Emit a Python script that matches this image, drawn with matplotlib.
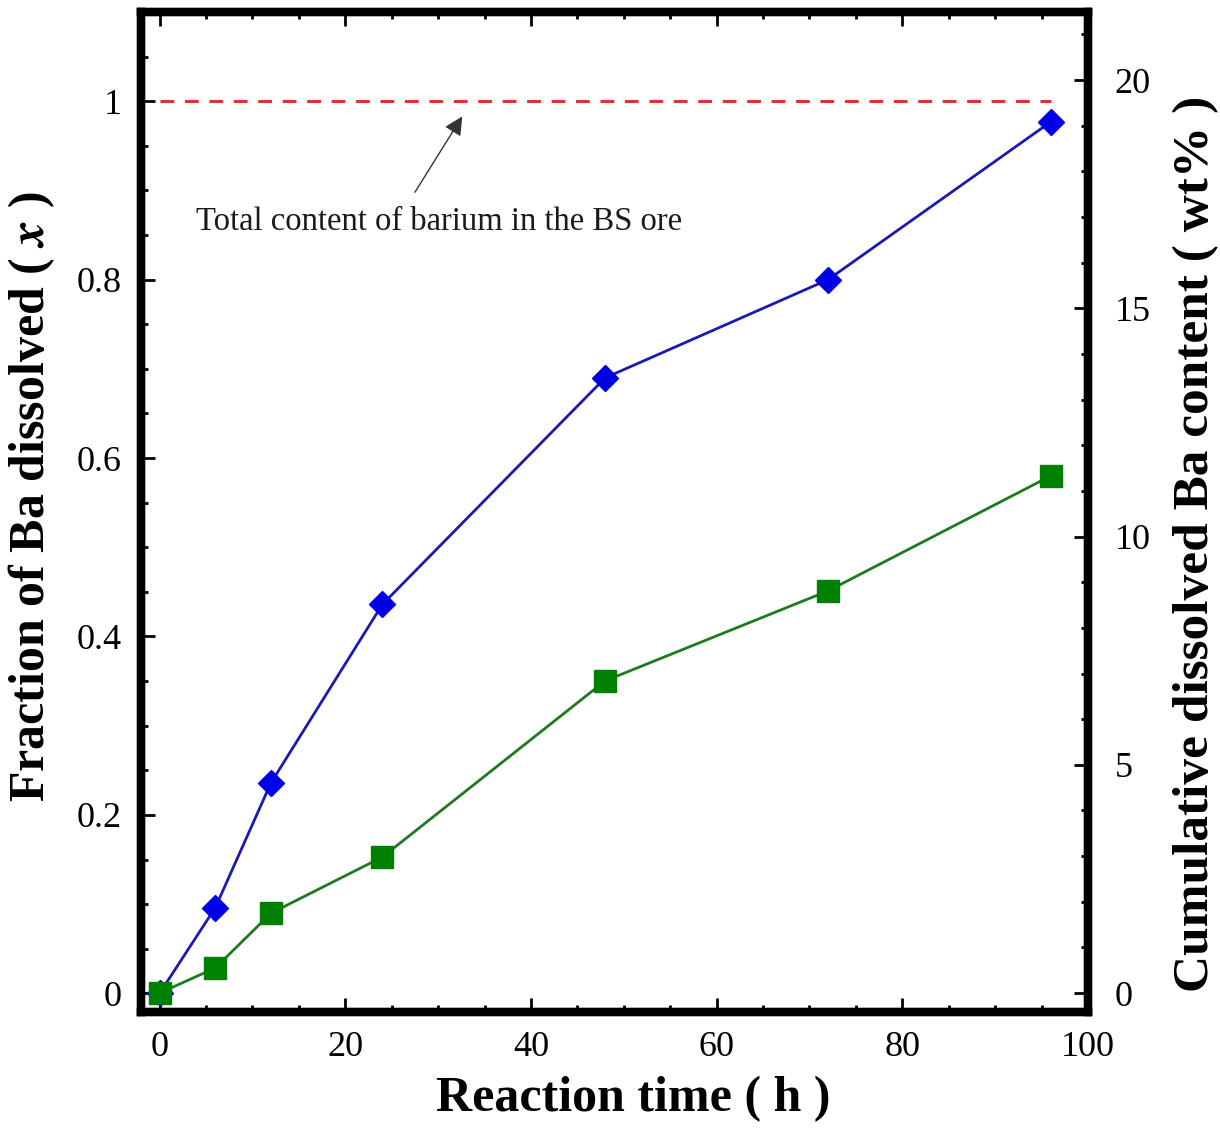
import matplotlib
matplotlib.use('Agg')
import matplotlib.pyplot as plt
from matplotlib.ticker import MultipleLocator, FormatStrFormatter

plt.rcParams['font.family'] = ['Liberation Serif', 'DejaVu Serif']
plt.rcParams['mathtext.fontset'] = 'stix'

# data
hours = [0, 6, 12, 24, 48, 72, 96]
fraction_ba = [0.0, 0.096, 0.236, 0.436, 0.690, 0.800, 0.977]   # left axis (x)
cumulative_ba = [0.0, 0.55, 1.75, 2.98, 6.84, 8.81, 11.33]       # right axis (wt%)
total_ba_level = 1.0

x_ticks = [0, 20, 40, 60, 80, 100]
left_ticks = [0, 0.2, 0.4, 0.6, 0.8, 1.0]
right_ticks = [0, 5, 10, 15, 20]

fig = plt.figure(figsize=(12.2, 11.37), dpi=100)
ax = fig.add_axes([0.1156, 0.1099, 0.8918 - 0.1156, 0.9894 - 0.1099])
ax2 = ax.twinx()

# lines
ax.plot(hours, fraction_ba, color='#1a1ab0', lw=2, marker='D', ms=13.5,
        mfc='#0000e6', mec='#0000e6', zorder=5)
ax2.plot(hours, cumulative_ba, color='#1f7a1f', lw=2, marker='s', ms=16,
         mfc='#008000', mec='#008000', zorder=5)
ax.plot([hours[0], hours[-1]], [total_ba_level, total_ba_level], color='#dd3333',
        lw=2.2, dashes=(4.5, 3.5), zorder=3)

# arrow pointing at the dashed line
ax.annotate('', xy=(32.6, 0.983), xytext=(27.5, 0.898),
            arrowprops=dict(arrowstyle='-|>', color='#333333', lw=1.0, mutation_scale=28,
                            shrinkA=0, shrinkB=0))
ax.text(3.9, 0.856, 'Total content of barium in the BS ore', fontsize=23.5, color='#1a1a1a',
        ha='left', va='baseline')

# limits
ax.set_xlim(-2, 100)
ax.set_ylim(-0.021, 1.1)
ax2.set_ylim(-0.416, 21.49)

ax.set_xticks(x_ticks)
ax.set_yticks(left_ticks)
ax2.set_yticks(right_ticks)
ax.xaxis.set_minor_locator(MultipleLocator(5))
ax.yaxis.set_minor_locator(MultipleLocator(0.05))
ax2.yaxis.set_minor_locator(MultipleLocator(1))
ax.yaxis.set_major_formatter(FormatStrFormatter('%g'))

ax.tick_params(axis='x', which='both', direction='in', top=True, bottom=True)
ax.tick_params(axis='y', which='both', direction='in', left=True, right=False)
ax2.tick_params(axis='y', which='both', direction='in', left=False, right=True)
for a in (ax, ax2):
    a.tick_params(which='major', length=10, width=2, labelsize=26)
    a.tick_params(which='minor', length=5, width=2)
ax.tick_params(axis='x', pad=14)
ax.tick_params(axis='y', pad=14)
ax2.tick_params(axis='y', pad=19)

for a in (ax, ax2):
    for s in a.spines.values():
        s.set_linewidth(6)

ax.set_xlabel('Reaction time ( h )', fontsize=36, fontweight='bold', labelpad=8)
ax.xaxis.label.set_x(0.52)
ax.set_ylabel(r'Fraction of Ba dissolved ( $\mathbfit{x}$ )', fontsize=36,
              fontweight='bold', labelpad=14)
ax.yaxis.label.set_y(0.515)
ax2.set_ylabel('Cumulative dissolved Ba content ( wt% )', fontsize=37,
               fontweight='bold', labelpad=16)
ax2.yaxis.label.set_y(0.468)

fig.savefig('out.png', dpi=100)
